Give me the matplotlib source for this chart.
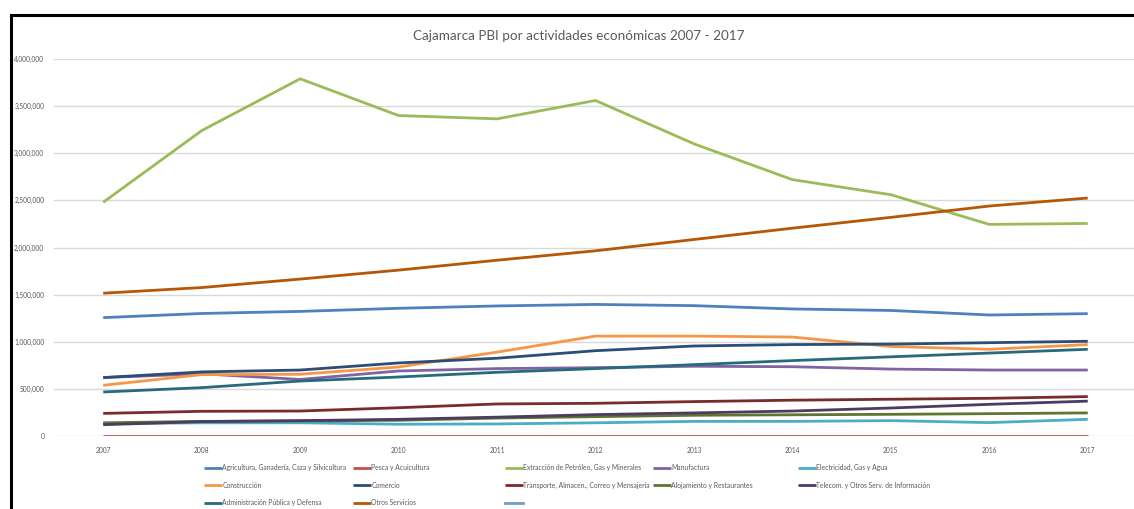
import numpy as np
import matplotlib.pyplot as plt
from matplotlib.lines import Line2D
from matplotlib.ticker import FuncFormatter

plt.rcParams['font.family'] = ['Lato', 'DejaVu Sans']

years = [2007, 2008, 2009, 2010, 2011, 2012, 2013, 2014, 2015, 2016, 2017]

agricultura = [1256000, 1300000, 1322000, 1355000, 1380000, 1396000, 1383000, 1348000, 1332000, 1284000, 1298000]
pesca = [5000, 5000, 5000, 5000, 5000, 5000, 5000, 5000, 5000, 5000, 5000]
extraccion = [2480000, 3240000, 3790000, 3400000, 3365000, 3560000, 3100000, 2720000, 2560000, 2245000, 2255000]
manufactura = [620000, 660000, 600000, 690000, 715000, 725000, 740000, 735000, 710000, 700000, 700000]
electricidad = [130000, 140000, 140000, 125000, 128000, 140000, 155000, 155000, 163000, 142000, 177000]
construccion = [538000, 651000, 655000, 732000, 890000, 1060000, 1060000, 1050000, 950000, 920000, 970000]
comercio = [620000, 680000, 700000, 775000, 825000, 905000, 955000, 970000, 975000, 990000, 1005000]
transporte = [240000, 262000, 265000, 300000, 340000, 347000, 365000, 380000, 390000, 400000, 418000]
alojamiento = [140000, 155000, 160000, 167000, 190000, 205000, 220000, 225000, 230000, 237000, 245000]
telecom = [120000, 153000, 163000, 177000, 200000, 227000, 245000, 265000, 297000, 336000, 370000]
administracion = [467000, 513000, 583000, 626000, 676000, 715000, 757000, 800000, 840000, 880000, 920000]
otros = [1515000, 1575000, 1665000, 1760000, 1865000, 1965000, 2085000, 2205000, 2320000, 2440000, 2525000]

series = [
    ('Agricultura, Ganadería, Caza y Silvicultura', agricultura, '#4F81BD'),
    ('Pesca y Acuicultura', pesca, '#C0504D'),
    ('Extracción de Petróleo, Gas y Minerales', extraccion, '#9BBB59'),
    ('Manufactura', manufactura, '#8064A2'),
    ('Electricidad, Gas y Agua', electricidad, '#4BACC6'),
    ('Construcción', construccion, '#F79646'),
    ('Comercio', comercio, '#2C4D75'),
    ('Transporte, Almacen., Correo y Mensajería', transporte, '#772C2A'),
    ('Alojamiento y Restaurantes', alojamiento, '#5F7530'),
    ('Telecom. y Otros Serv. de Información', telecom, '#4D3B62'),
    ('Administración Pública y Defensa', administracion, '#276A7C'),
    ('Otros Servicios', otros, '#B65708'),
    (' ', [], '#729ACA'),
]

W, H = 1134, 509
fig = plt.figure(figsize=(W / 100, H / 100), dpi=100)
ax = fig.add_axes([54 / W, (H - 436) / H, 1083 / W, 377 / H])

x = np.arange(len(years))
handles = []
for name, vals, col in series:
    if len(vals):
        h, = ax.plot(x[:len(vals)], vals, color=col, lw=2, solid_capstyle='butt', label=name)
    else:
        h = Line2D([], [], color=col, lw=2, label=name)
    handles.append(h)

ax.set_xlim(-0.5, len(years) - 0.5)
ax.set_ylim(0, 4000000)
ax.set_yticks(np.arange(0, 4000001, 500000))
ax.yaxis.set_major_formatter(FuncFormatter(lambda v, p: f'{int(v):,}'))
ax.set_xticks(x)
ax.set_xticklabels([str(y) for y in years])
ax.grid(axis='y', color='#D9D9D9', lw=1)
ax.set_axisbelow(True)
for s in ax.spines.values():
    s.set_visible(False)
ax.tick_params(length=0, labelsize=4.8, labelcolor='#595959')
ax.tick_params(axis='x', pad=8)
ax.tick_params(axis='y', pad=7)

fig.text(579 / W, 1 - 36 / H, 'Cajamarca PBI por actividades económicas 2007 - 2017',
         ha='center', va='center', fontsize=9.7, color='#595959')

# legend laid out row by row in 5 fixed columns, like the spreadsheet
col_x = [204, 353, 505, 653, 798]
for c in range(5):
    hs = handles[c::5]
    leg = fig.legend(handles=hs, loc='upper left', bbox_to_anchor=(col_x[c] / W, 1 - 464 / H),
                     frameon=False, fontsize=4.9, handlelength=2.6, handletextpad=0.1,
                     labelspacing=1.55, borderpad=0, borderaxespad=0)
    for t in leg.get_texts():
        t.set_color('#595959')

# frame of the screenshot
fig.add_artist(Line2D([11 / W, 1], [1 - 15 / H, 1 - 15 / H], color='black', lw=2.2))
fig.add_artist(Line2D([11 / W, 11 / W], [0, 1 - 15 / H], color='black', lw=2.2))

fig.savefig('out.png', dpi=100)
